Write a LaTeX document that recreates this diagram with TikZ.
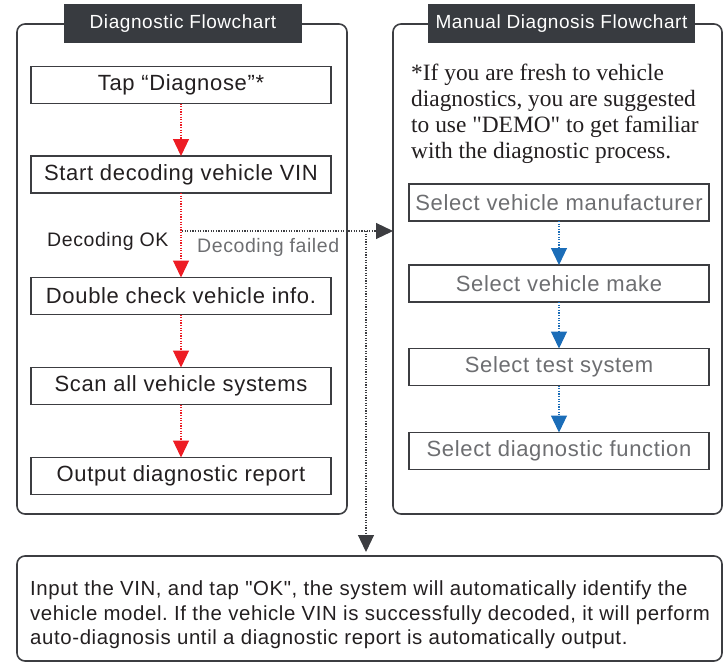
\documentclass[tikz,border=0pt]{standalone}
\usepackage{fontspec}
\setmainfont{Liberation Sans}[LetterSpace=3]
\newfontfamily\droitfont{Liberation Sans}[LetterSpace=3]
\newfontfamily\notefont{Liberation Serif}
\usetikzlibrary{arrows.meta}
\definecolor{titregris}{HTML}{383B40}
\definecolor{bordgris}{HTML}{3C3D41}
\definecolor{textenoir}{HTML}{231F20}
\definecolor{textegris}{HTML}{6D6E71}
\definecolor{rouge}{HTML}{ED1C24}
\definecolor{bleu}{HTML}{1B6DB8}
\frenchspacing

\begin{document}
\begin{tikzpicture}[x=1pt,y=-1pt,
    cadre/.style={draw=bordgris, line width=1.6pt, rounded corners=8pt, outer sep=0pt, inner sep=0pt},
    titre/.style={fill=titregris, text=white, font=\fontsize{19}{23}\selectfont, minimum height=39pt, inner sep=0pt},
    etape/.style={draw=bordgris, line width=1.4pt, fill=white, minimum width=300pt, minimum height=37pt, inner sep=0pt, outer sep=0pt, font=\fontsize{22}{25}\selectfont, text=textenoir},
    etapemanu/.style={etape, text=textegris},
    fleche/.style={line width=1.2pt, dash pattern=on 1.2pt off 1.4pt, -{Triangle[length=17pt,width=16pt]}},
    fr/.style={fleche, color=rouge},
    fb/.style={fleche, color=bleu},
    fg/.style={fleche, color=bordgris}]
    \useasboundingbox (0,0) rectangle (724,662);
    % les deux cadres
    \node[cadre, minimum width=330pt, minimum height=490pt] (gauche) at (182,269) {};
    \node[cadre, minimum width=329pt, minimum height=490pt] (droite) at (557.5,269) {};
    \node[titre, minimum width=238pt] (titreg) at (183,23.5) {Diagnostic Flowchart};
    \node[titre, minimum width=267pt] (titred) at (561.5,23.5) {Manual Diagnosis Flowchart};
    % diagnostic auto
    \node[etape] (tap) at (181,85) {Tap “Diagnose”*};
    \node[etape] (debut) at (181,174.5) {Start decoding vehicle VIN};
    \node[etape] (verif) at (181,296) {Double check vehicle info.};
    \node[etape] (scan) at (181,386) {Scan all vehicle systems};
    \node[etape] (rapport) at (181,476) {Output diagnostic report};
    \node[anchor=base west, inner sep=0pt, text=textenoir, font=\fontsize{19.5}{23}\selectfont] (ok) at (47,246) {Decoding OK};
    \node[anchor=base west, inner sep=0pt, text=textegris, font=\fontsize{19.5}{23}\selectfont] (echec) at (197,252) {Decoding failed};
    % diagnostic manuel
    \node[anchor=west, align=left, inner sep=0pt, text=textenoir, font=\notefont\fontsize{23.4}{26}\selectfont] (conseil) at (411,114)
        {*If you are fresh to vehicle\\diagnostics, you are suggested\\to use "DEMO" to get familiar\\with the diagnostic process.};
    \node[etapemanu] (fabricant) at (559,202.5) {Select vehicle manufacturer};
    \node[etapemanu] (marque) at (559,283.5) {Select vehicle make};
    \node[etapemanu] (systeme) at (559,367) {Select test system};
    \node[etapemanu] (fonction) at (559,451) {Select diagnostic function};
    % encadre du bas
    \node[cadre, anchor=north west, minimum width=705pt, minimum height=105pt] (bas) at (17,556) {};
    \node[anchor=west, align=left, inner sep=0pt, text=textenoir, font=\droitfont\fontsize{20.4}{24.5}\selectfont] (bastexte) at (30,615)
        {Input the VIN, and tap "OK", the system will automatically identify the\\vehicle model. If the vehicle VIN is successfully decoded, it will perform\\auto-diagnosis until a diagnostic report is automatically output.};
    % fleches
    \draw[fr] (tap) -- (debut);
    \draw[fr] (debut) -- (verif);
    \draw[fr] (verif) -- (scan);
    \draw[fr] (scan) -- (rapport);
    \draw[fb] (fabricant) -- (marque);
    \draw[fb] (marque) -- (systeme);
    \draw[fb] (systeme) -- (fonction);
    \coordinate (branche) at (182,231);
    \coordinate (coude) at (366,231);
    \draw[fg] (branche) -- (branche -| droite.west);
    \draw[fg] (coude) -- ([yshift=4pt]coude |- bas.north);
\end{tikzpicture}
\end{document}
